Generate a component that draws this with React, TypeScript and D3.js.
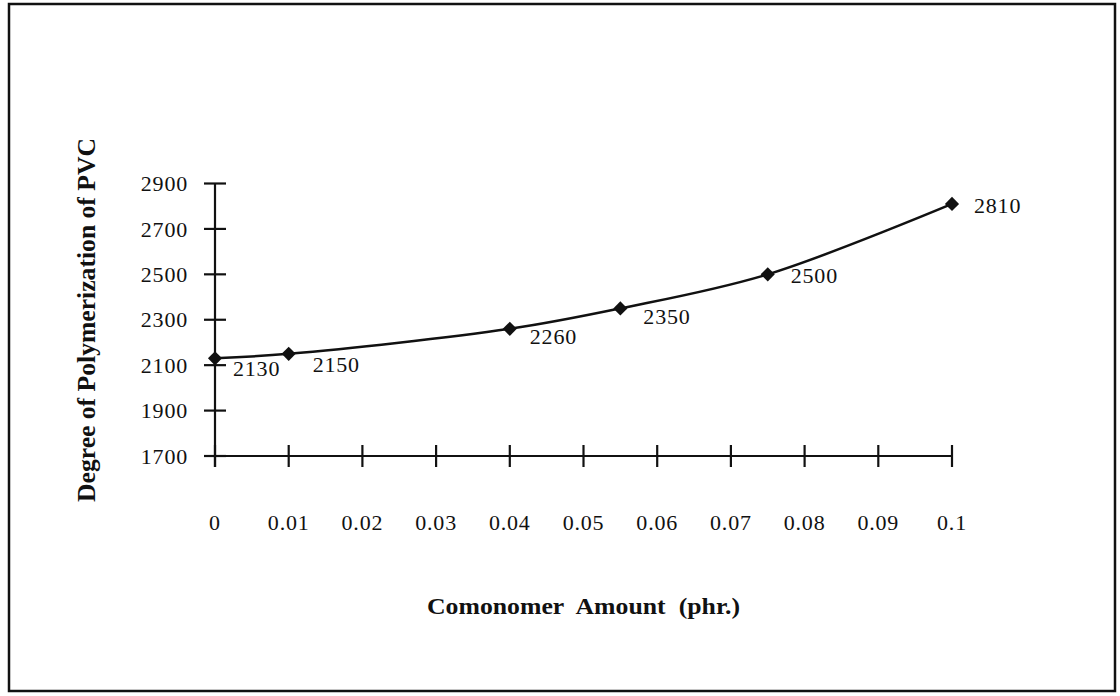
import React, { useEffect, useRef } from "react";
import * as d3 from "d3";

const amounts = [0, 0.01, 0.04, 0.055, 0.075, 0.1];
const degrees = [2130, 2150, 2260, 2350, 2500, 2810];
const xTicks = [0, 0.01, 0.02, 0.03, 0.04, 0.05, 0.06, 0.07, 0.08, 0.09, 0.1];
const xTickLabels = ["0", "0.01", "0.02", "0.03", "0.04", "0.05", "0.06", "0.07", "0.08", "0.09", "0.1"];
const yTicks = [1700, 1900, 2100, 2300, 2500, 2700, 2900];
const xTitle = "Comonomer Amount (phr.)";
const yTitle = "Degree of Polymerization of PVC";

// label offsets (style, not data)
const labelDx = [18, 24, 20, 23, 23, 22];
const labelDy = [18, 18, 15, 16, 9, 9];

const W = 1120;
const H = 696;

export default function App() {
  const ref = useRef<SVGSVGElement | null>(null);

  useEffect(() => {
    const svg = d3.select(ref.current);
    svg.selectAll("*").remove();

    const font = "'Liberation Serif', 'Times New Roman', serif";
    const x = d3.scaleLinear().domain([0, 0.1]).range([215, 952]);
    const y = d3.scaleLinear().domain([1700, 2900]).range([456, 183.5]);

    svg.append("rect").attr("x", 0).attr("y", 0).attr("width", W).attr("height", H).attr("fill", "#fff");
    svg.append("rect")
      .attr("x", 9).attr("y", 4).attr("width", 1106).attr("height", 687)
      .attr("fill", "none").attr("stroke", "#111").attr("stroke-width", 2.5);

    const ink = "#111";
    const g = svg.append("g");

    // y axis
    g.append("line").attr("x1", x(0)).attr("x2", x(0)).attr("y1", y(2900)).attr("y2", y(1700) + 11)
      .attr("stroke", ink).attr("stroke-width", 2.2);
    yTicks.forEach((t) => {
      g.append("line").attr("x1", x(0) - 11).attr("x2", x(0) + 11).attr("y1", y(t)).attr("y2", y(t))
        .attr("stroke", ink).attr("stroke-width", 2.2);
      g.append("text").attr("x", 188).attr("y", y(t)).attr("dy", "0.35em")
        .attr("text-anchor", "end").attr("font-family", font).attr("font-size", 22)
        .attr("letter-spacing", 0.8)
        .attr("fill", ink).text(String(t));
    });

    // x axis
    g.append("line").attr("x1", x(0) - 11).attr("x2", x(0.1)).attr("y1", y(1700)).attr("y2", y(1700))
      .attr("stroke", ink).attr("stroke-width", 2.2);
    xTicks.forEach((t, i) => {
      g.append("line").attr("x1", x(t)).attr("x2", x(t)).attr("y1", y(1700) - 11).attr("y2", y(1700) + 11)
        .attr("stroke", ink).attr("stroke-width", 2.2);
      g.append("text").attr("x", x(t)).attr("y", 530)
        .attr("text-anchor", "middle").attr("font-family", font).attr("font-size", 22)
        .attr("letter-spacing", 0.8)
        .attr("fill", ink).text(xTickLabels[i]);
    });

    // line
    const pts = amounts.map((a, i) => [x(a), y(degrees[i])] as [number, number]);
    const line = d3.line().curve(d3.curveCatmullRom.alpha(0.5));
    g.append("path").attr("d", line(pts) as string).attr("fill", "none")
      .attr("stroke", ink).attr("stroke-width", 2.5);

    // markers
    const sym = d3.symbol().type(d3.symbolSquare).size(100);
    pts.forEach((p) => {
      g.append("path").attr("d", sym() as string)
        .attr("transform", `translate(${p[0]},${p[1]}) rotate(45)`).attr("fill", ink);
    });

    // labels
    pts.forEach((p, i) => {
      g.append("text").attr("x", p[0] + labelDx[i]).attr("y", p[1] + labelDy[i])
        .attr("font-family", font).attr("font-size", 22).attr("letter-spacing", 0.8)
        .attr("fill", ink).text(String(degrees[i]));
    });

    // titles
    g.append("text").attr("x", 427).attr("y", 614)
      .attr("font-family", font).attr("font-size", 23).attr("font-weight", "bold")
      .attr("textLength", 313).attr("lengthAdjust", "spacingAndGlyphs")
      .attr("word-spacing", 6).attr("fill", ink).text(xTitle);
    g.append("text").attr("transform", `translate(95,502) rotate(-90)`)
      .attr("font-family", font).attr("font-size", 25).attr("font-weight", "bold")
      .attr("textLength", 364).attr("lengthAdjust", "spacingAndGlyphs")
      .attr("fill", ink).text(yTitle);
  }, []);

  return (
    <svg ref={ref} width={W} height={H} style={{ position: "absolute", left: 0, top: 0 }} />
  );
}
